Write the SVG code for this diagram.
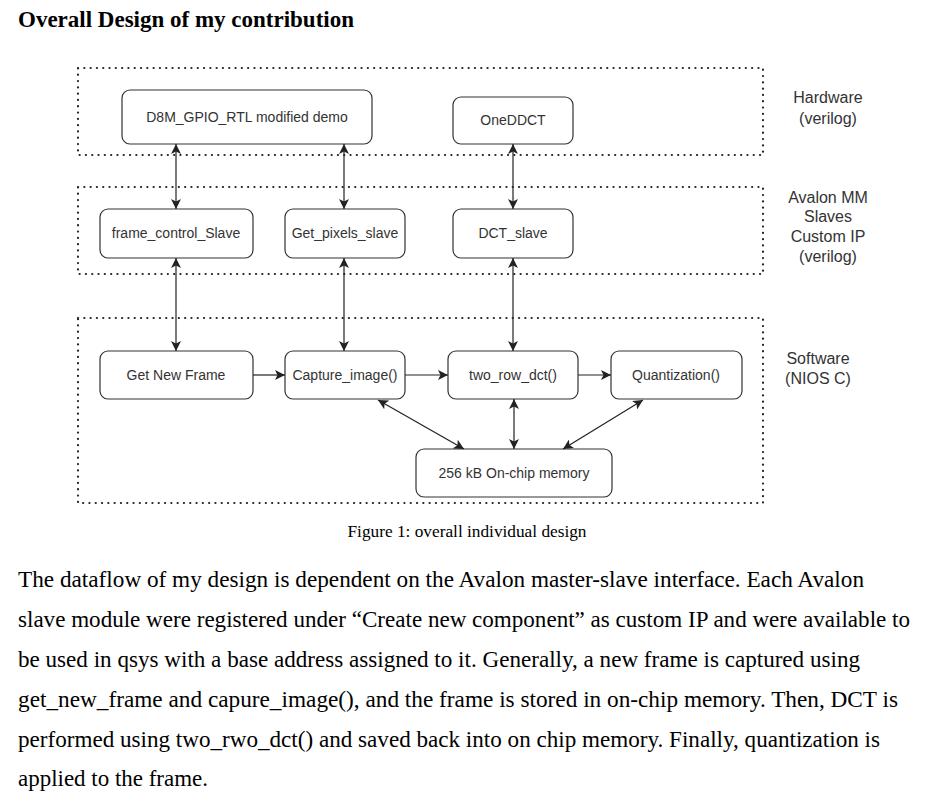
<svg xmlns="http://www.w3.org/2000/svg" width="930" height="800" viewBox="0 0 930 800">
<style>
.bg{fill:#ffffff}
.grp{fill:none;stroke:#222;stroke-width:2.2;stroke-dasharray:0.1 6.2;stroke-linecap:round}
.node rect{fill:#fff;stroke:#333;stroke-width:1.2}
.node text{font-family:"Liberation Sans",Arial,sans-serif;font-size:14px;fill:#333;text-anchor:middle}
.lbl{font-family:"Liberation Sans",Arial,sans-serif;font-size:16px;fill:#333;text-anchor:middle}
.conn line{stroke:#222;stroke-width:1.2;fill:none}
.title{font-family:"Liberation Serif","Times New Roman",serif;font-size:22px;font-weight:bold;fill:#000}
.cap{font-family:"Liberation Serif","Times New Roman",serif;font-size:16px;fill:#000;text-anchor:middle}
.body{font-family:"Liberation Serif","Times New Roman",serif;font-size:20.5px;fill:#000}
</style>
<defs>
<marker id="ah" viewBox="0 0 10 10" refX="10" refY="5" markerWidth="10" markerHeight="10" markerUnits="userSpaceOnUse" orient="auto-start-reverse">
<path d="M0,0 L10,5 L0,10 L2.5,5 Z" fill="#222"/>
</marker>
</defs>
<rect class="bg" x="0" y="0" width="930" height="800"/>
<text class="title" transform="translate(18,27) scale(1,1.08)" x="0" y="0" textLength="336" lengthAdjust="spacingAndGlyphs">Overall Design of my contribution</text>

<g id="containers">
<rect class="grp" x="78" y="68" width="685" height="87"/>
<rect class="grp" x="78" y="187" width="685" height="87"/>
<rect class="grp" x="78" y="318" width="685" height="185"/>
</g>

<g id="layer-labels">
<text class="lbl" x="828" y="103">Hardware</text>
<text class="lbl" x="828" y="124">(verilog)</text>
<text class="lbl" x="828" y="203">Avalon MM</text>
<text class="lbl" x="828" y="222">Slaves</text>
<text class="lbl" x="828" y="242">Custom IP</text>
<text class="lbl" x="828" y="262">(verilog)</text>
<text class="lbl" x="818" y="364">Software</text>
<text class="lbl" x="818" y="384">(NIOS C)</text>
</g>

<g id="n-d8m" class="node"><rect x="122" y="90" width="250" height="54" rx="8"/><text x="247" y="122">D8M_GPIO_RTL modified demo</text></g>
<g id="n-oneddct" class="node"><rect x="453" y="97" width="120" height="47" rx="8"/><text x="513" y="125">OneDDCT</text></g>
<g id="n-framectrl" class="node"><rect x="100" y="209" width="153" height="49" rx="8"/><text x="176" y="238">frame_control_Slave</text></g>
<g id="n-getpixels" class="node"><rect x="285" y="209" width="120" height="49" rx="8"/><text x="345" y="238">Get_pixels_slave</text></g>
<g id="n-dctslave" class="node"><rect x="453" y="209" width="120" height="49" rx="8"/><text x="513" y="238">DCT_slave</text></g>
<g id="n-getnew" class="node"><rect x="100" y="351" width="153" height="48" rx="8"/><text x="176" y="380">Get New Frame</text></g>
<g id="n-capture" class="node"><rect x="285" y="351" width="120" height="48" rx="8"/><text x="345" y="380">Capture_image()</text></g>
<g id="n-tworow" class="node"><rect x="448" y="351" width="130" height="48" rx="8"/><text x="513" y="380">two_row_dct()</text></g>
<g id="n-quant" class="node"><rect x="611" y="351" width="131" height="48" rx="8"/><text x="676" y="380">Quantization()</text></g>
<g id="n-mem" class="node"><rect x="416" y="449" width="196" height="48" rx="8"/><text x="514" y="478">256 kB On-chip memory</text></g>

<g id="connectors" class="conn">
<line x1="176" y1="144" x2="176" y2="209" marker-start="url(#ah)" marker-end="url(#ah)"/>
<line x1="344" y1="144" x2="344" y2="209" marker-start="url(#ah)" marker-end="url(#ah)"/>
<line x1="513" y1="144" x2="513" y2="209" marker-start="url(#ah)" marker-end="url(#ah)"/>
<line x1="176" y1="258" x2="176" y2="351" marker-start="url(#ah)" marker-end="url(#ah)"/>
<line x1="344" y1="258" x2="344" y2="351" marker-start="url(#ah)" marker-end="url(#ah)"/>
<line x1="513" y1="258" x2="513" y2="351" marker-start="url(#ah)" marker-end="url(#ah)"/>
<line x1="253" y1="375" x2="285" y2="375" marker-end="url(#ah)"/>
<line x1="405" y1="375" x2="448" y2="375" marker-end="url(#ah)"/>
<line x1="578" y1="375" x2="611" y2="375" marker-end="url(#ah)"/>
<line x1="378" y1="400" x2="464" y2="449" marker-start="url(#ah)" marker-end="url(#ah)"/>
<line x1="514" y1="399" x2="514" y2="449" marker-start="url(#ah)" marker-end="url(#ah)"/>
<line x1="643" y1="400" x2="563" y2="449" marker-start="url(#ah)" marker-end="url(#ah)"/>
</g>

<text class="cap" transform="translate(467,537) scale(1,1.08)" x="0" y="0" textLength="239" lengthAdjust="spacingAndGlyphs">Figure 1: overall individual design</text>

<g id="body-text">
<text class="body" transform="translate(18,587) scale(1,1.12)" x="0" y="0" textLength="846" lengthAdjust="spacingAndGlyphs">The dataflow of my design is dependent on the Avalon master-slave interface. Each Avalon</text>
<text class="body" transform="translate(18,627) scale(1,1.12)" x="0" y="0" textLength="892" lengthAdjust="spacingAndGlyphs">slave module were registered under “Create new component” as custom IP and were available to</text>
<text class="body" transform="translate(18,667) scale(1,1.12)" x="0" y="0" textLength="842" lengthAdjust="spacingAndGlyphs">be used in qsys with a base address assigned to it. Generally, a new frame is captured using</text>
<text class="body" transform="translate(18,707) scale(1,1.12)" x="0" y="0" textLength="880" lengthAdjust="spacingAndGlyphs">get_new_frame and capure_image(), and the frame is stored in on-chip memory. Then, DCT is</text>
<text class="body" transform="translate(18,747) scale(1,1.12)" x="0" y="0" textLength="862" lengthAdjust="spacingAndGlyphs">performed using two_rwo_dct() and saved back into on chip memory. Finally, quantization is</text>
<text class="body" transform="translate(18,786) scale(1,1.12)" x="0" y="0" textLength="190" lengthAdjust="spacingAndGlyphs">applied to the frame.</text>
</g>
</svg>
